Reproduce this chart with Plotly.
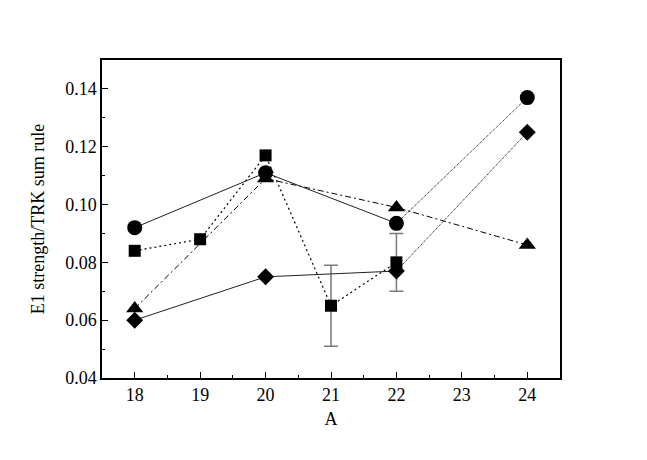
import plotly.graph_objects as go

A_all = [18, 20, 22, 24]
circle_vals = [0.092, 0.111, 0.0935, 0.137]
diamond_vals = [0.060, 0.075, 0.077, 0.125]
triangle_vals = [0.064, 0.109, 0.099, 0.086]
A_sq = [18, 19, 20, 21, 22]
square_vals = [0.084, 0.088, 0.117, 0.065, 0.080]
A_err = [21, 22]
err_center = [0.065, 0.080]
err_vals = [0.014, 0.010]

font = "'Times New Roman', 'Liberation Serif', serif"
fig = go.Figure()

# error bars (beneath markers)
fig.add_trace(go.Scatter(x=A_err, y=err_center, mode="markers",
                         marker=dict(size=1, color="rgba(0,0,0,0)"),
                         error_y=dict(type="data", array=err_vals, visible=True,
                                      color="#7a7a7a", thickness=1.5, width=7),
                         showlegend=False, hoverinfo="skip"))

# triangle: dash-dot
fig.add_trace(go.Scatter(x=A_all, y=triangle_vals, mode="lines+markers",
                         line=dict(color="black", width=1, dash="6px,3px,2px,3px"),
                         marker=dict(symbol="triangle-up", size=15, color="black")))
# diamond: solid then dotted
fig.add_trace(go.Scatter(x=A_all[:3], y=diamond_vals[:3], mode="lines",
                         line=dict(color="#222", width=1)))
fig.add_trace(go.Scatter(x=A_all[2:], y=diamond_vals[2:], mode="lines",
                         line=dict(color="black", width=1, dash="1px,1px")))
fig.add_trace(go.Scatter(x=A_all, y=diamond_vals, mode="markers",
                         marker=dict(symbol="diamond", size=13, color="black")))
# square: dotted
fig.add_trace(go.Scatter(x=A_sq, y=square_vals, mode="lines+markers",
                         line=dict(color="black", width=1.2, dash="2px,3px"),
                         marker=dict(symbol="square", size=12, color="black")))
# circle: solid then dotted
fig.add_trace(go.Scatter(x=A_all[:3], y=circle_vals[:3], mode="lines",
                         line=dict(color="#222", width=1)))
fig.add_trace(go.Scatter(x=A_all[2:], y=circle_vals[2:], mode="lines",
                         line=dict(color="black", width=1, dash="1px,1px")))
fig.add_trace(go.Scatter(x=A_all, y=circle_vals, mode="markers",
                         marker=dict(symbol="circle", size=15, color="black")))

axis_common = dict(showline=True, linecolor="black", linewidth=1.5, mirror=True,
                   ticks="inside", ticklen=6, tickwidth=1.2, tickcolor="black",
                   showgrid=False, zeroline=False,
                   tickfont=dict(family=font, size=18, color="black"))

fig.update_layout(
    width=647, height=460,
    margin=dict(l=94, r=95, t=52, b=90),
    paper_bgcolor="white", plot_bgcolor="white",
    showlegend=False,
    font=dict(family=font, color="black"),
    xaxis=dict(range=[17.5, 24.5], tickmode="linear", tick0=18, dtick=1,
               minor=dict(ticks="inside", dtick=0.5, tick0=18, ticklen=3, tickcolor="black"),
               title=dict(text="A", font=dict(family=font, size=18), standoff=8),
               **axis_common),
    yaxis=dict(range=[0.04, 0.15], tickmode="linear", tick0=0.04, dtick=0.02,
               tickformat=".2f",
               minor=dict(ticks="inside", dtick=0.01, tick0=0.04, ticklen=3, tickcolor="black"),
               title=dict(text="E1 strength/TRK sum rule", font=dict(family=font, size=18), standoff=16),
               **axis_common),
)

fig.write_html("out.html")
